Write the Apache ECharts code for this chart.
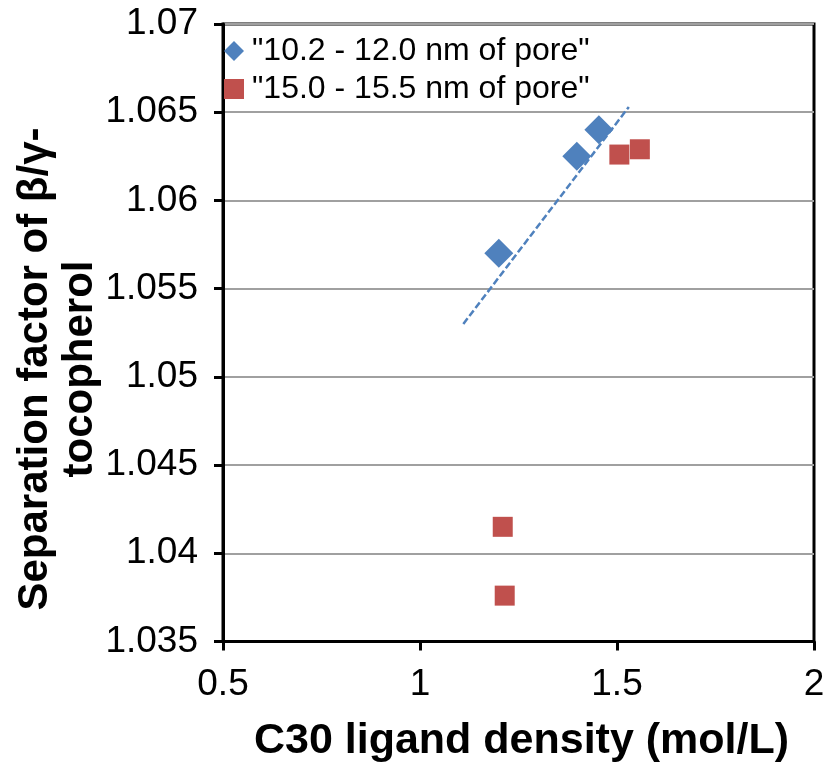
<!DOCTYPE html>
<html>
<head>
<meta charset="utf-8">
<script src="https://cdn.jsdelivr.net/npm/echarts@6/dist/echarts.min.js"></script>
<style>
html,body{margin:0;padding:0;background:#fff;}
#chart{width:825px;height:765px;}
</style>
</head>
<body>
<div id="chart"></div>
<script>
// Data
var seriesNames = ['"10.2 - 12.0 nm of pore"', '"15.0 - 15.5 nm of pore"'];
var pore1X = [1.20, 1.398, 1.454];
var pore1Y = [1.0570, 1.0625, 1.0640];
var pore2X = [1.506, 1.558, 1.210, 1.215];
var pore2Y = [1.0626, 1.0629, 1.0415, 1.0376];
var trendX = [1.11, 1.53];
var trendY = [1.0530, 1.0653];
var xTicks = [0.5, 1, 1.5, 2];
var yTicks = [1.035, 1.04, 1.045, 1.05, 1.055, 1.06, 1.065, 1.07];
var xTitle = 'C30 ligand density (mol/L)';
var yTitle = 'Separation factor of β/γ-\ntocopherol';

function pairs(xs, ys) { return xs.map(function (x, i) { return [x, ys[i]]; }); }

var chart = echarts.init(document.getElementById('chart'), null, { renderer: 'canvas' });
var font = 'Liberation Sans, Arial, Helvetica, sans-serif';
chart.setOption({
  animation: false,
  backgroundColor: '#ffffff',
  textStyle: { fontFamily: font, color: '#000' },
  grid: {
    left: 223, right: 11, top: 24, bottom: 123.5,
    containLabel: false, outerBoundsMode: 'none',
    show: true, borderColor: '#000', borderWidth: 3, backgroundColor: 'transparent'
  },
  legend: {
    show: true,
    left: 219, top: 30,
    orient: 'vertical',
    itemWidth: 20, itemHeight: 20, itemGap: 6,
    data: [
      { name: seriesNames[0], icon: 'diamond' },
      { name: seriesNames[1], icon: 'rect' }
    ],
    textStyle: { fontFamily: font, fontSize: 32, color: '#000', padding: [0, 0, 0, 3] }
  },
  graphic: [
    {
      type: 'text', x: 58, y: 369, rotation: Math.PI / 2,
      style: {
        text: yTitle, fontFamily: font, fontSize: 42, fontWeight: 'bold', fill: '#000',
        lineHeight: 45, align: 'center', verticalAlign: 'middle'
      }
    }
  ],
  xAxis: {
    type: 'value',
    min: xTicks[0], max: xTicks[xTicks.length - 1], interval: 0.5,
    name: xTitle,
    nameLocation: 'middle', nameGap: 78,
    nameTextStyle: { fontFamily: font, fontSize: 43, fontWeight: 'bold', color: '#000', padding: [0, 0, 0, 6] },
    axisLine: { show: true, onZero: false, lineStyle: { color: '#000', width: 3 } },
    axisTick: { show: true, inside: false, length: 9, lineStyle: { color: '#000', width: 3 } },
    axisLabel: { fontFamily: font, fontSize: 37, color: '#000', margin: 25 },
    splitLine: { show: false }
  },
  yAxis: {
    type: 'value',
    min: yTicks[0], max: yTicks[yTicks.length - 1], interval: 0.005,
    axisLine: { show: true, onZero: false, lineStyle: { color: '#000', width: 3 } },
    axisTick: { show: true, inside: false, length: 9, lineStyle: { color: '#000', width: 3 } },
    axisLabel: { fontFamily: font, fontSize: 37, color: '#000', margin: 25,
      formatter: function (v) { return String(Math.round(v * 1000) / 1000); } },
    splitLine: { show: true, lineStyle: { color: '#A0A0A0', width: 2 } }
  },
  series: [
    {
      name: seriesNames[0], type: 'scatter', symbol: 'diamond', symbolSize: 29,
      itemStyle: { color: '#4F81BD', opacity: 1 },
      data: pairs(pore1X, pore1Y), z: 3
    },
    {
      name: seriesNames[1], type: 'scatter', symbol: 'rect', symbolSize: 20,
      itemStyle: { color: '#C0504D', opacity: 1 },
      data: pairs(pore2X, pore2Y), z: 3
    },
    {
      name: 'trend', type: 'line', symbol: 'none', silent: true,
      lineStyle: { color: '#4F81BD', width: 2.5, type: [7, 3] },
      data: pairs(trendX, trendY), z: 2
    }
  ]
});
</script>
</body>
</html>
